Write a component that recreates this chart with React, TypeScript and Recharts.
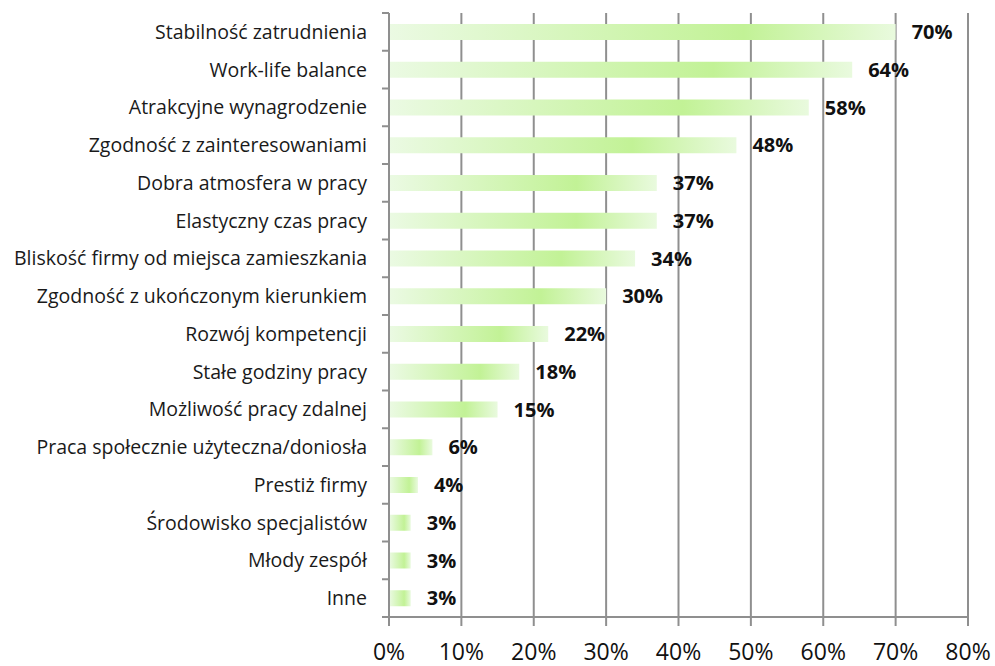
import React from 'react';
import { BarChart, Bar, XAxis, YAxis, CartesianGrid, LabelList } from 'recharts';

const categories = [
  'Stabilność zatrudnienia',
  'Work-life balance',
  'Atrakcyjne wynagrodzenie',
  'Zgodność z zainteresowaniami',
  'Dobra atmosfera w pracy',
  'Elastyczny czas pracy',
  'Bliskość firmy od miejsca zamieszkania',
  'Zgodność z ukończonym kierunkiem',
  'Rozwój kompetencji',
  'Stałe godziny pracy',
  'Możliwość pracy zdalnej',
  'Praca społecznie użyteczna/doniosła',
  'Prestiż firmy',
  'Środowisko specjalistów',
  'Młody zespół',
  'Inne',
];

const shares = [70, 64, 58, 48, 37, 37, 34, 30, 22, 18, 15, 6, 4, 3, 3, 3];

const xTicks = [0, 10, 20, 30, 40, 50, 60, 70, 80];

const data = categories.map((name, i) => ({ name, value: shares[i] }));

const W = 995;
const H = 666;
const TOP = 13;
const BOTTOM = 49;
const Y_AXIS_W = 389;
const AXIS_GRAY = '#8f8f8f';
const BAND = (H - TOP - BOTTOM) / categories.length;

const CategoryTick = (props: any) => {
  const { y, payload, index } = props;
  const yTop = y - BAND / 2;
  const yBottom = y + BAND / 2;
  return (
    <g>
      <line x1={Y_AXIS_W - 7} x2={Y_AXIS_W} y1={yTop} y2={yTop} stroke={AXIS_GRAY} strokeWidth={2} />
      {index === categories.length - 1 && (
        <line x1={Y_AXIS_W - 7} x2={Y_AXIS_W} y1={yBottom} y2={yBottom} stroke={AXIS_GRAY} strokeWidth={2} />
      )}
      <text
        x={Y_AXIS_W - 22}
        y={y}
        dy={7}
        textAnchor="end"
        fill="#1a1a1a"
        fontSize={19.5}
        fontFamily="'Open Sans', sans-serif"
      >
        {payload.value}
      </text>
    </g>
  );
};

export default function App() {
  return (
    <div style={{ position: 'absolute', top: 0, left: 0, width: W, height: H, background: '#fff' }}>
      <BarChart
        width={W}
        height={H}
        data={data}
        layout="vertical"
        margin={{ top: TOP, right: 27, bottom: 0, left: 0 }}
        barCategoryGap={0}
      >
        <defs>
          <linearGradient id="barFill" x1="0" y1="0" x2="1" y2="0">
            <stop offset="0%" stopColor="#ebfae3" />
            <stop offset="70%" stopColor="#c2f296" />
            <stop offset="100%" stopColor="#e9fade" />
          </linearGradient>
        </defs>
        <CartesianGrid
          horizontal={false}
          vertical
          stroke={AXIS_GRAY}
          strokeWidth={2}
        />
        <XAxis
          type="number"
          domain={[0, 80]}
          ticks={xTicks}
          height={BOTTOM}
          axisLine={{ stroke: AXIS_GRAY, strokeWidth: 2 }}
          tickLine={{ stroke: AXIS_GRAY, strokeWidth: 2 }}
          tickSize={9}
          tick={{ fill: '#111', fontSize: 23, fontFamily: "'Open Sans', sans-serif", dy: 16 }}
          tickFormatter={(v) => `${v}%`}
        />
        <YAxis
          type="category"
          dataKey="name"
          width={Y_AXIS_W}
          interval={0}
          axisLine={{ stroke: AXIS_GRAY, strokeWidth: 2 }}
          tickLine={false}
          tick={<CategoryTick />}
        />
        <Bar dataKey="value" fill="url(#barFill)" barSize={16} isAnimationActive={false}>
          <LabelList
            dataKey="value"
            position="right"
            offset={16}
            formatter={(v: any) => `${v}%`}
            style={{ fontWeight: 700, fontSize: 20, fill: '#111', fontFamily: "'Open Sans', sans-serif" }}
          />
        </Bar>
      </BarChart>
    </div>
  );
}
